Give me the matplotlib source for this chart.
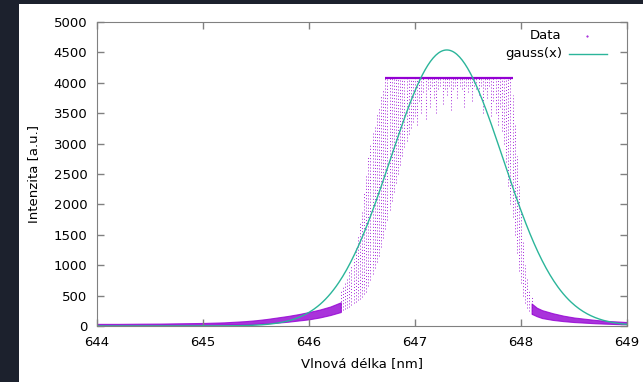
import numpy as np
import matplotlib.pyplot as plt
from matplotlib.patches import Rectangle

# values
# wings: the thin dense band of data points (lower / upper edge)
left_wl = [644.0, 644.2, 644.4, 644.6, 644.8, 645.0, 645.2, 645.4, 645.5, 645.6,
           645.7, 645.8, 645.9, 646.0, 646.1, 646.2, 646.3]
left_lo = [10, 12, 12, 14, 15, 18, 22, 30, 35, 45, 55, 70, 90, 110, 140, 180, 230]
left_hi = [35, 35, 38, 40, 45, 50, 60, 80, 95, 115, 140, 165, 195, 230, 270, 320, 390]

right_wl = [648.1, 648.15, 648.2, 648.3, 648.4, 648.5, 648.6, 648.7, 648.8, 648.9, 649.0]
right_lo = [200, 160, 130, 100, 80, 65, 55, 45, 38, 32, 28]
right_hi = [370, 300, 260, 210, 170, 140, 120, 100, 85, 75, 65]

# edges and plateau: vertical streaks of scattered points (bottom / top of each streak)
cloud_wl = [646.30, 646.32, 646.34, 646.36, 646.38, 646.40, 646.42, 646.44, 646.46, 646.48,
            646.50, 646.52, 646.54, 646.56, 646.58, 646.60, 646.62, 646.64, 646.66, 646.68,
            646.70, 646.72, 646.74, 646.76, 646.78, 646.80, 646.82, 646.84, 646.86, 646.88,
            646.90, 646.92, 646.94, 646.96, 646.98, 647.00, 647.02, 647.04, 647.06, 647.08,
            647.10, 647.12, 647.14, 647.16, 647.18, 647.20, 647.22, 647.24, 647.26, 647.28,
            647.30, 647.32, 647.34, 647.36, 647.38, 647.40, 647.42, 647.44, 647.46, 647.48,
            647.50, 647.52, 647.54, 647.56, 647.58, 647.60, 647.62, 647.64, 647.66, 647.68,
            647.70, 647.72, 647.74, 647.76, 647.78, 647.80, 647.82, 647.84, 647.86, 647.88,
            647.90, 647.92, 647.94, 647.96, 647.98, 648.00, 648.02, 648.04, 648.06, 648.08,
            648.10]
cloud_lo = [250, 270, 280, 300, 320, 350, 380, 400, 420, 450,
            480, 520, 560, 650, 750, 850, 950, 1050, 1150, 1300,
            1450, 1600, 1750, 1900, 2050, 2200, 2350, 2500, 2650, 2800,
            2950, 3050, 3150, 3250, 3350, 3450, 3300, 3700, 3500, 3850,
            3400, 3900, 3600, 3950, 3750, 3500, 3900, 3950, 3650, 3900,
            3800, 3950, 3550, 3900, 3950, 3750, 3950, 3900, 3600, 3950,
            3850, 3950, 3700, 3950, 3900, 3800, 3950, 3500, 3900, 3750,
            3950, 3450, 3700, 3500, 3300, 3600, 3200, 3000, 2700, 2300,
            2000, 1800, 1500, 1200, 900, 700, 500, 380, 300, 250,
            200]
cloud_hi = [600, 650, 700, 800, 900, 1000, 1100, 1300, 1500, 1700,
            1900, 2200, 2500, 2800, 3000, 3200, 3300, 3500, 3600, 3800,
            3900, 4080, 4080, 4080, 4080, 4080, 4080, 4080, 4080, 4080,
            4080, 4080, 4080, 4080, 4080, 4080, 4080, 4080, 4080, 4080,
            4080, 4080, 4080, 4080, 4080, 4080, 4080, 4080, 4080, 4080,
            4080, 4080, 4080, 4080, 4080, 4080, 4080, 4080, 4080, 4080,
            4080, 4080, 4080, 4080, 4080, 4080, 4080, 4080, 4080, 4080,
            4080, 4080, 4080, 4080, 4080, 4080, 4080, 4080, 4080, 4080,
            4080, 3800, 3300, 2800, 2300, 1900, 1400, 1000, 800, 600,
            480]

# detector saturation level and where it is reached
sat_level = 4080
sat_from, sat_to = 646.72, 647.92

# gauss(x) fit parameters
amp = 4540
mu = 647.30
sigma = 0.53

violet = '#9400d3'
teal = '#2bb59a'
grey = '#808080'

plt.rcParams['font.family'] = ['DejaVu Sans']

fig = plt.figure(figsize=(6.43, 3.82), dpi=100)
fig.patch.set_facecolor('#1c212d')
fig.patches.append(Rectangle((19 / 643, 0), 1, 1 - 4 / 382, transform=fig.transFigure,
                             facecolor='white', edgecolor='none', zorder=-1))

ax = fig.add_axes([97 / 643, 56 / 382, 530 / 643, 304 / 382])

ax.fill_between(left_wl, left_lo, left_hi, color=violet, alpha=0.8, linewidth=0.8)
ax.fill_between(right_wl, right_lo, right_hi, color=violet, alpha=0.8, linewidth=0.8)
ax.vlines(cloud_wl, cloud_lo, cloud_hi, colors=violet, linewidth=0.7,
          linestyles=(0, (1, 2.2)), alpha=0.85)
ax.hlines(sat_level, sat_from, sat_to, colors=violet, linewidth=1.6)

xs = np.linspace(644, 649, 400)
ax.plot(xs, amp * np.exp(-(xs - mu) ** 2 / (2 * sigma ** 2)), color=teal, linewidth=1.0)

ax.set_xlim(644, 649)
ax.set_ylim(0, 5000)
ax.set_xticks(np.arange(644, 650, 1))
ax.set_yticks(np.arange(0, 5001, 500))
ax.tick_params(direction='in', top=True, right=True, length=5, width=1, color=grey,
               labelsize=9.5, pad=7)
for s in ax.spines.values():
    s.set_color(grey)
ax.set_xlabel('Vlnová délka [nm]', fontsize=9.5, labelpad=6)
ax.set_ylabel('Intenzita [a.u.]', fontsize=9.5, labelpad=10)

# key, gnuplot style (right aligned labels, sample on the right)
ax.text(0.877, 0.955, 'Data', transform=ax.transAxes, ha='right', va='center', fontsize=9.5)
ax.text(0.877, 0.895, 'gauss(x)', transform=ax.transAxes, ha='right', va='center', fontsize=9.5)
ax.plot([0.925], [0.955], transform=ax.transAxes, marker='.', markersize=1, color=violet)
ax.plot([0.89, 0.962], [0.895, 0.895], transform=ax.transAxes, color=teal, linewidth=1.0)

fig.savefig('out.png', dpi=100, facecolor=fig.get_facecolor())
